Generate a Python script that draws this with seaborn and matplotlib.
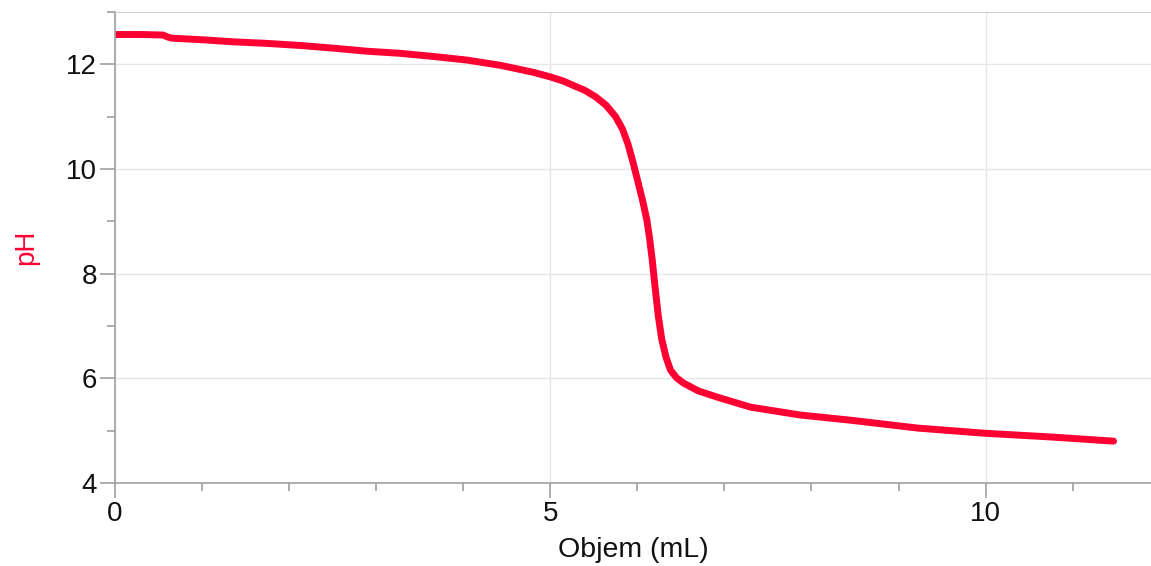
import numpy as np
import pandas as pd
import matplotlib
matplotlib.use("Agg")
import matplotlib.pyplot as plt
import seaborn as sns
from matplotlib.ticker import MultipleLocator

# Titration curve
volume = [0.0, 0.3, 0.55, 0.61, 0.65, 1.0, 1.36, 1.75, 2.13, 2.5, 2.90, 3.28,
          3.66, 4.05, 4.43, 4.80, 5.0, 5.15, 5.26, 5.40, 5.52, 5.64, 5.75,
          5.83, 5.89, 5.95, 6.0, 6.06, 6.11, 6.14, 6.17, 6.20, 6.24, 6.28,
          6.33, 6.38, 6.45, 6.53, 6.70, 6.92, 7.30, 7.87, 8.45, 9.22, 10.0,
          10.75, 11.47]
ph = [12.57, 12.57, 12.56, 12.52, 12.50, 12.47, 12.43, 12.40, 12.36, 12.31,
      12.25, 12.21, 12.15, 12.08, 11.98, 11.85, 11.76, 11.68, 11.60, 11.50,
      11.38, 11.22, 11.00, 10.76, 10.49, 10.13, 9.80, 9.40, 9.02, 8.68, 8.28,
      7.80, 7.20, 6.75, 6.40, 6.16, 6.01, 5.91, 5.76, 5.64, 5.45, 5.30, 5.20,
      5.05, 4.95, 4.88, 4.80]

x_ticks = [0, 5, 10]
y_ticks = [4, 6, 8, 10, 12]

df = pd.DataFrame({"Objem (mL)": volume, "pH": ph})

sns.set_style("white")
plt.rcParams["font.family"] = ["Liberation Sans", "DejaVu Sans"]

fig = plt.figure(figsize=(11.51, 5.66), dpi=100)
ax = fig.add_axes([0.0999, 0.1466, 0.9001, 0.8322])

sns.lineplot(data=df, x="Objem (mL)", y="pH", sort=False, color="#ff0033",
             linewidth=5, solid_capstyle="round", solid_joinstyle="round",
             ax=ax)

ax.set_xlim(0, 11.9)
ax.set_ylim(4, 13)
ax.set_xticks(x_ticks)
ax.set_yticks(y_ticks)
ax.xaxis.set_minor_locator(MultipleLocator(1))
ax.yaxis.set_minor_locator(MultipleLocator(1))

ax.grid(True, which="major", color="#e6e6e6", linewidth=1)
ax.set_axisbelow(True)

for side in ["left", "bottom"]:
    ax.spines[side].set_color("#a0a0a0")
    ax.spines[side].set_linewidth(1.2)
ax.spines["top"].set_color("#d0d0d0")
ax.spines["right"].set_visible(False)

ax.tick_params(which="major", length=11, width=1.2, color="#a0a0a0",
               labelsize=20, labelcolor="#111111", pad=2)
ax.tick_params(which="minor", length=6, width=1.2, color="#a0a0a0")
ax.tick_params(axis="y", which="both", left=True)
ax.tick_params(axis="x", which="both", bottom=True)

ax.set_xlabel("Objem (mL)", fontsize=20.5, color="#111111", labelpad=7)
ax.set_ylabel("pH", fontsize=20, color="#ff0033", labelpad=19)

fig.savefig("out.png", dpi=100)
